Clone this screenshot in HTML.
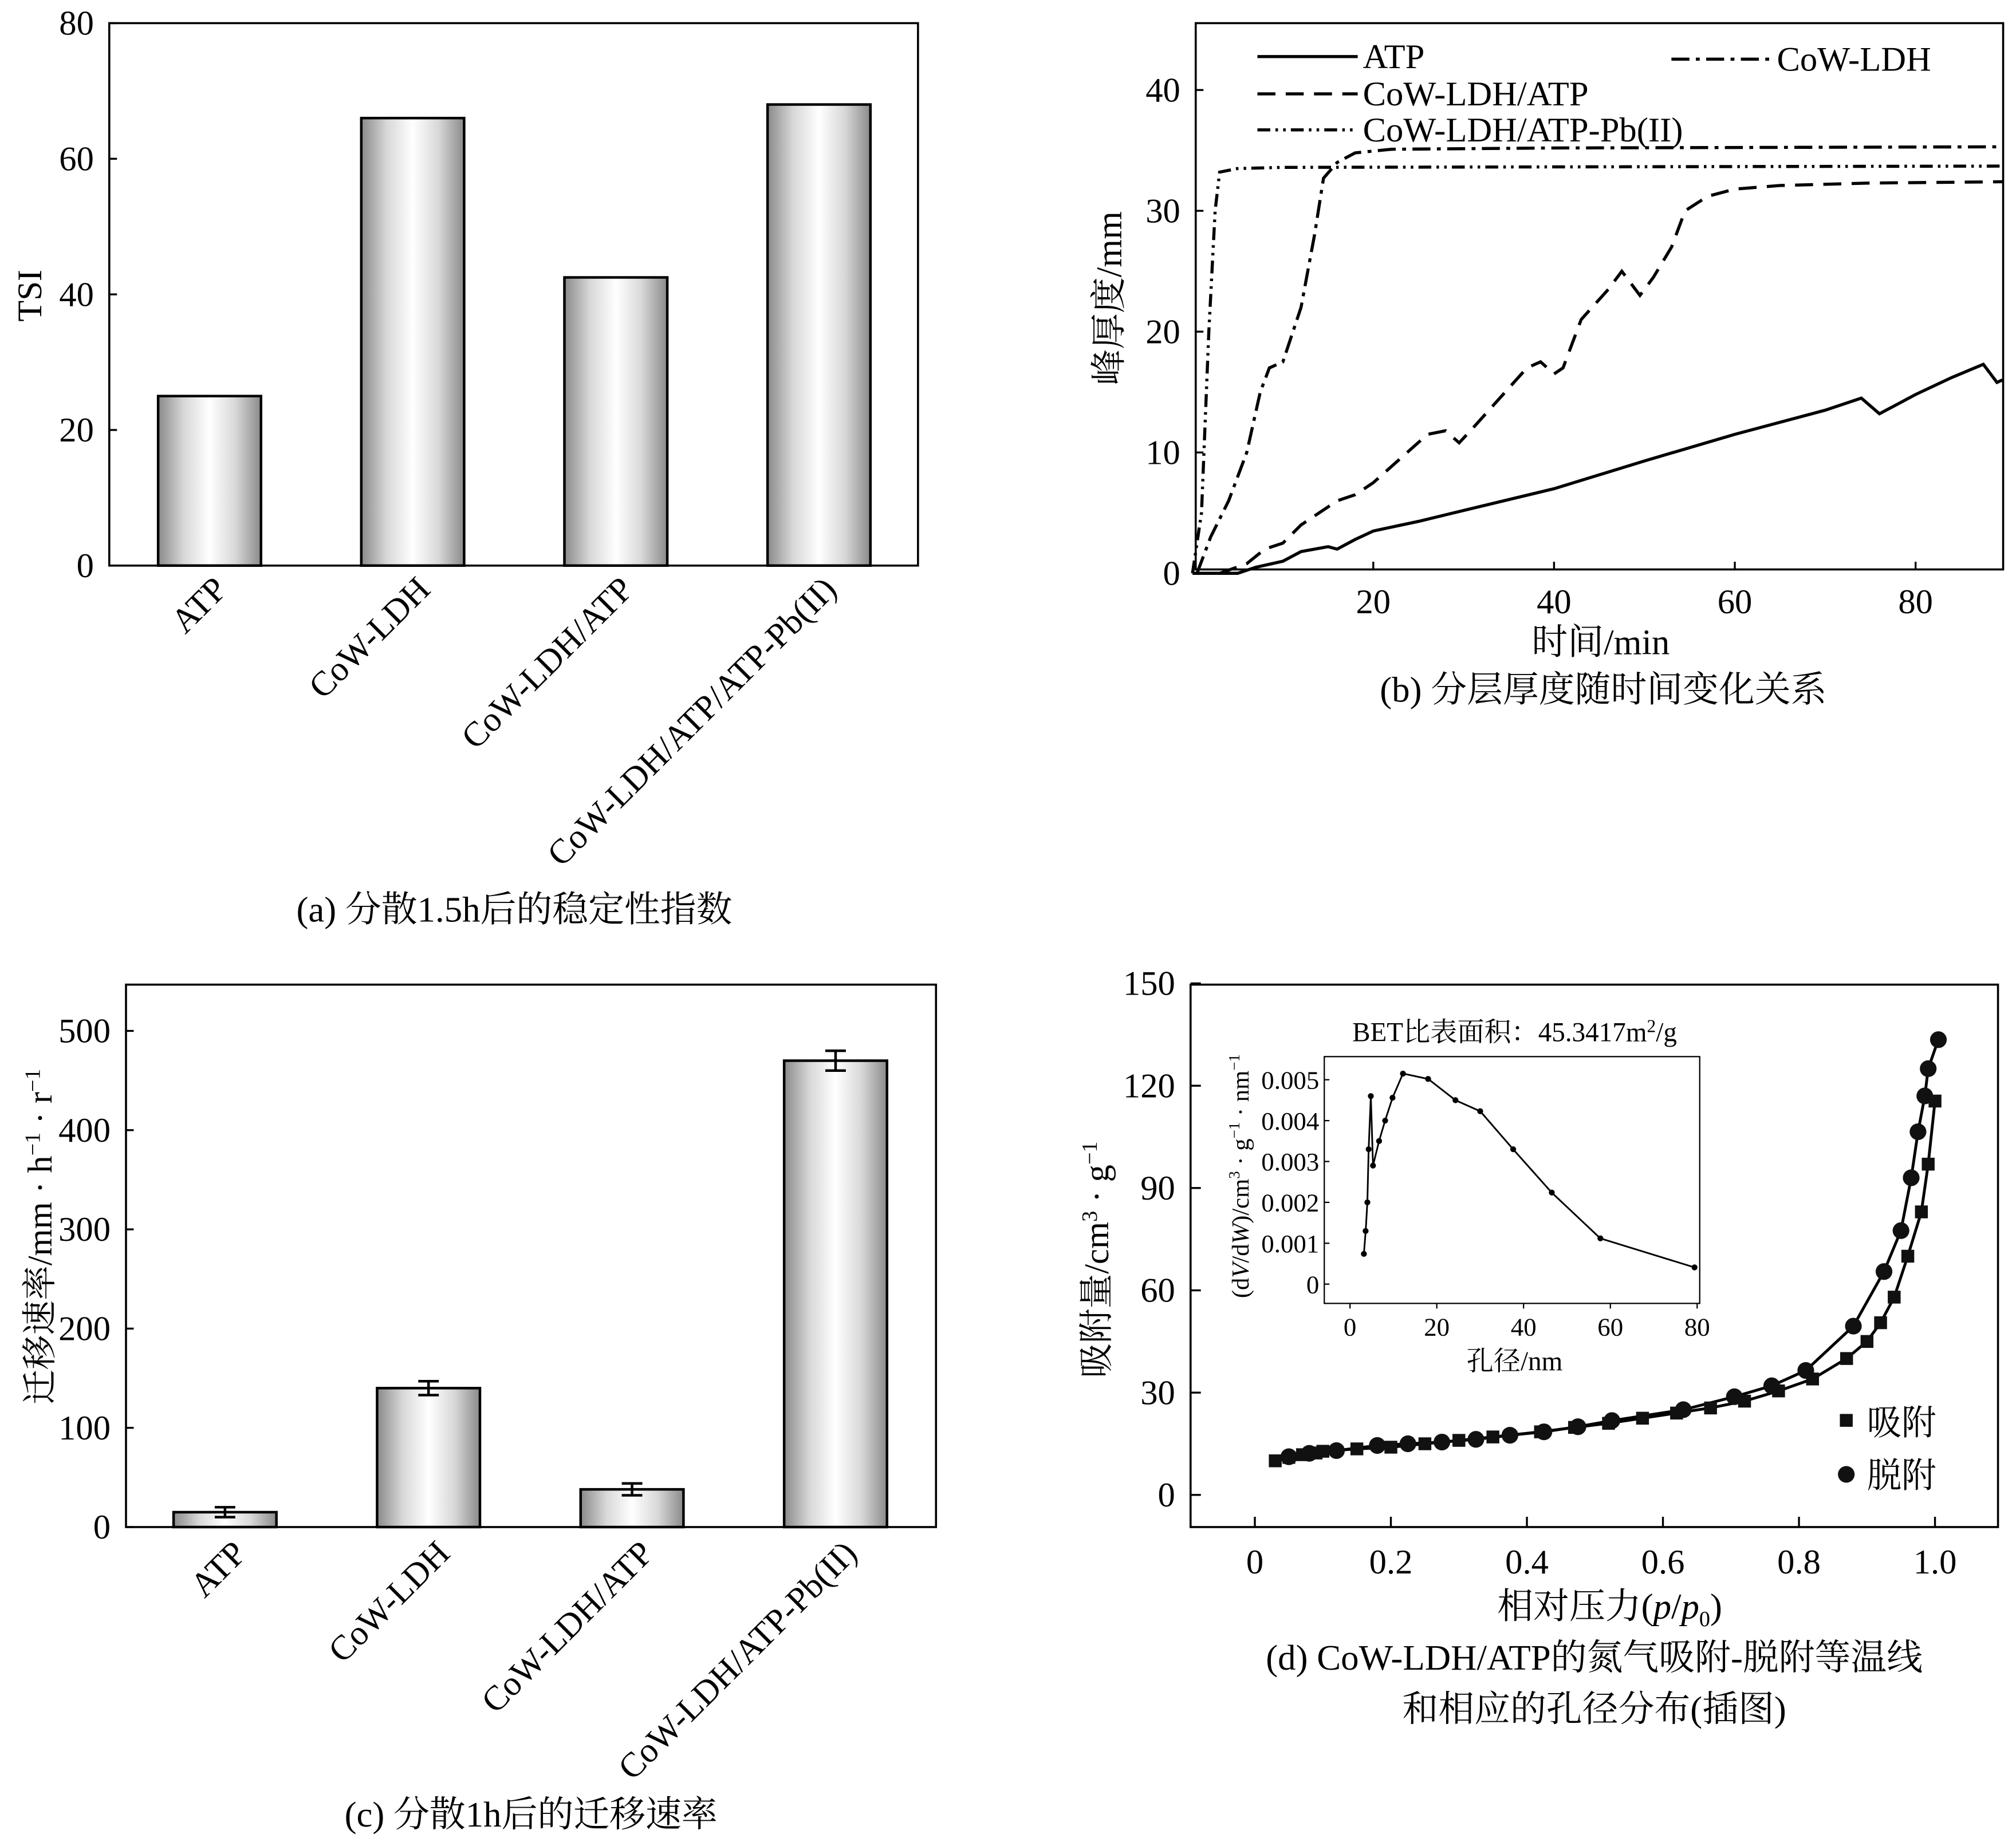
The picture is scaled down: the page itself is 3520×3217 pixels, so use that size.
<!DOCTYPE html>
<html><head><meta charset="utf-8"><style>
html,body{margin:0;padding:0;background:#fff;}
svg{display:block;font-family:"Liberation Serif","Noto Serif CJK SC",serif;}
</style></head><body>
<svg id="fig" width="3520" height="3217" viewBox="0 0 1568 1433" xmlns="http://www.w3.org/2000/svg">
<defs>
<linearGradient id="barg" x1="0" x2="1" y1="0" y2="0">
<stop offset="0" stop-color="#8a8a8a"/><stop offset="0.25" stop-color="#d8d8d8"/><stop offset="0.5" stop-color="#ffffff"/><stop offset="0.75" stop-color="#d8d8d8"/><stop offset="1" stop-color="#8a8a8a"/>
</linearGradient>
</defs>
<g id="pa"></g>
<g id="pb"></g>
<g id="pc"></g>
<g id="pd"></g>
</svg>
<script>
// ---- Panel a data
const aCategories = ["ATP","CoW-LDH","CoW-LDH/ATP","CoW-LDH/ATP/ATP-Pb(II)"];
const aValues = [25, 66, 42.5, 68];
const aTicks = [0,20,40,60,80];
// ---- Panel b data
const bTicksY = [0,10,20,30,40];
const bTicksX = [20,40,60,80];
const bATP = [[0,0],[5,0],[7,0.5],[10,1],[12,1.8],[15,2.2],[16,2],[18,2.8],[20,3.5],[25,4.3],[30,5.2],[40,7],[50,9.3],[60,11.5],[70,13.5],[74,14.5],[76,13.2],[80,14.8],[84,16.2],[87.5,17.3],[89,15.8],[90,16]];
const bLDHATP = [[3,0],[6,0.8],[8,2],[10,2.5],[12,4],[15,5.5],[16,6],[18,6.5],[20,7.5],[23,9.5],[26,11.5],[28,11.8],[29.5,10.8],[31,12],[34,14.5],[37,17],[38.5,17.5],[40,16.5],[41,17],[43,21],[46,23.5],[47.5,25],[49.5,23],[51,24.5],[53,27],[54.5,30],[57,31.2],[60,31.8],[65,32.1],[75,32.3],[90,32.4]];
const bLDH = [[0.5,0],[2,3],[4,6],[6,10],[7.5,15],[8.5,17],[10,17.5],[12,22],[13.5,28],[14.5,32.7],[16,34],[18,34.8],[22,35.1],[40,35.2],[90,35.3]];
const bPb = [[0,0],[1,5],[1.8,20],[2.5,30],[3,33.2],[5,33.5],[10,33.6],[90,33.7]];
// ---- Panel c data
const cCategories = ["ATP","CoW-LDH","CoW-LDH/ATP","CoW-LDH/ATP-Pb(II)"];
const cValues = [15, 140, 38, 470];
const cErrors = [5, 7, 6, 10];
const cTicks = [0,100,200,300,400,500];
// ---- Panel d data
const dTicksY = [0,30,60,90,120,150];
const dTicksX = [0,0.2,0.4,0.6,0.8,1.0];
const dTickLabelsX = ["0","0.2","0.4","0.6","0.8","1.0"];
const dAds = [[0.03,10],[0.05,11],[0.07,11.8],[0.09,12.3],[0.1,12.8],[0.15,13.5],[0.2,14],[0.25,15],[0.3,16],[0.35,17],[0.42,18.5],[0.47,19.8],[0.52,21],[0.57,22.5],[0.62,24],[0.67,25.5],[0.72,27.5],[0.77,30.5],[0.82,34],[0.87,40],[0.9,45],[0.92,50.5],[0.94,58],[0.96,70],[0.98,83],[0.99,97],[1.0,115.5]];
const dDes = [[0.05,11.2],[0.08,12.2],[0.12,13],[0.18,14.5],[0.225,15],[0.275,15.5],[0.325,16.3],[0.375,17.5],[0.425,18.5],[0.475,20],[0.525,21.8],[0.63,25],[0.705,28.8],[0.76,32],[0.81,36.5],[0.88,49.5],[0.925,65.5],[0.95,77.5],[0.965,93],[0.975,106.5],[0.985,117],[0.99,125],[1.005,133.5]];
const insetX = [3.2,3.6,4,4.3,4.8,5.3,6.7,8.1,9.8,12.2,18,24.3,30,37.6,46.5,57.7,79.4];
const insetY = [0.00074,0.0013,0.002,0.0033,0.0046,0.0029,0.0035,0.0040,0.00456,0.00515,0.00502,0.0045,0.00423,0.0033,0.00224,0.00112,0.00041];
const insetTicksY = [0,0.001,0.002,0.003,0.004,0.005];
const insetTickLabelsY = ["0","0.001","0.002","0.003","0.004","0.005"];
const insetTicksX = [0,20,40,60,80];

const NS="http://www.w3.org/2000/svg";
const FS=27, CFS=28;
function mk(parent,tag,attrs,text){const e=document.createElementNS(NS,tag);for(const k in attrs)e.setAttribute(k,attrs[k]);if(text!==undefined)e.textContent=text;parent.appendChild(e);return e;}

// ===== Panel a
(function(){
const g=document.getElementById('pa');
const L=85,R=714,T=18,B=440;
const y=v=>B-(v/80)*(B-T);
const bx=i=>163+i*158;
let e=mk(g,'rect',{x:L,y:T,width:R-L,height:B-T,fill:'none',stroke:'#000','stroke-width':1.6});

aTicks.forEach(t=>{
 let l=mk(g,'line',{x1:L,x2:L+6,y1:y(t),y2:y(t),stroke:'#000','stroke-width':1.5});
 
 let tx=mk(g,'text',{x:L-12,y:y(t)+9,'text-anchor':'end','font-size':FS},t);
 
});
aValues.forEach((v,i)=>{
 let r=mk(g,'rect',{x:bx(i)-40,y:y(v),width:80,height:B-y(v),fill:'url(#barg)',stroke:'#000','stroke-width':2});
 
 let t=mk(g,'text',{x:0,y:0,'text-anchor':'end','font-size':FS,transform:`translate(${bx(i)+15},${B+20}) rotate(-45)`},aCategories[i]);
 
});
let yt=mk(g,'text',{x:0,y:0,'text-anchor':'middle','font-size':FS,transform:'translate(32,230) rotate(-90)'},'TSI');

let c=mk(g,'text',{x:400,y:717,'text-anchor':'middle','font-size':CFS},'(a) 分散1.5h后的稳定性指数');

})();

// ===== Panel b
(function(){
const g=document.getElementById('pb');
const L=930,R=1558,T=18,B=443;
const x=v=>927.5+v*7.03;
const y=v=>446-v*9.4;
let e=mk(g,'rect',{x:L,y:T,width:R-L,height:B-T,fill:'none',stroke:'#000','stroke-width':1.6});

bTicksY.forEach(t=>{
 let l=mk(g,'line',{x1:L,x2:L+6,y1:y(t),y2:y(t),stroke:'#000','stroke-width':1.5});
 
 let tx=mk(g,'text',{x:L-12,y:y(t)+9,'text-anchor':'end','font-size':FS},t);
 
});
bTicksX.forEach(t=>{
 let l=mk(g,'line',{x1:x(t),x2:x(t),y1:B,y2:B-6,stroke:'#000','stroke-width':1.5});
 
 let tx=mk(g,'text',{x:x(t),y:B+34,'text-anchor':'middle','font-size':FS},t);
 
});
const series=[[bATP,'none','atp-line'],[bLDHATP,'14 8','cow-ldh-atp-line'],[bLDH,'14 5 3 5','cow-ldh-line'],[bPb,'10 4 2 4 2 4','cow-ldh-atp-pb-line']];
series.forEach(s=>{
 const d=s[0].map((p,i)=>(i?'L':'M')+x(Math.min(p[0],89.6)).toFixed(1)+','+y(p[1]).toFixed(1)).join(' ');
 let p=mk(g,'path',{d:d,fill:'none',stroke:'#000','stroke-width':2.4,'stroke-dasharray':s[1]});
 
});
const leg=[[978,44,'none','ATP'],[1300,46,'14 5 3 5','CoW-LDH'],[978,73,'14 8','CoW-LDH/ATP'],[978,101,'10 4 2 4 2 4','CoW-LDH/ATP-Pb(II)']];
leg.forEach(l=>{
 let ln=mk(g,'line',{x1:l[0],x2:l[0]+78,y1:l[1],y2:l[1],stroke:'#000','stroke-width':2.4,'stroke-dasharray':l[2]});
 
 let t=mk(g,'text',{x:l[0]+82,y:l[1]+9,'font-size':FS},l[3]);
 
});
let yt=mk(g,'text',{x:0,y:0,'text-anchor':'middle','font-size':CFS,transform:'translate(872,232) rotate(-90)'},'峰厚度/mm');

let xt=mk(g,'text',{x:1245,y:509,'text-anchor':'middle','font-size':CFS},'时间/min');

let c=mk(g,'text',{x:1247,y:546,'text-anchor':'middle','font-size':CFS},'(b) 分层厚度随时间变化关系');

})();

// ===== Panel c
(function(){
const g=document.getElementById('pc');
const L=98,R=728,T=766,B=1188;
const y=v=>B-v*0.772;
const bx=i=>175+i*158.3;
let e=mk(g,'rect',{x:L,y:T,width:R-L,height:B-T,fill:'none',stroke:'#000','stroke-width':1.6});

cTicks.forEach(t=>{
 let l=mk(g,'line',{x1:L,x2:L+6,y1:y(t),y2:y(t),stroke:'#000','stroke-width':1.5});
 
 let tx=mk(g,'text',{x:L-12,y:y(t)+9,'text-anchor':'end','font-size':FS},t);
 
});
cValues.forEach((v,i)=>{
 let r=mk(g,'rect',{x:bx(i)-40,y:y(v),width:80,height:B-y(v),fill:'url(#barg)',stroke:'#000','stroke-width':2});
 
 const eu=y(v+cErrors[i]),el=y(v-cErrors[i]);
 let eb=mk(g,'path',{d:`M${bx(i)},${eu} L${bx(i)},${el} M${bx(i)-8},${eu} L${bx(i)+8},${eu} M${bx(i)-8},${el} L${bx(i)+8},${el}`,stroke:'#000','stroke-width':2,fill:'none'});
 
 let t=mk(g,'text',{x:0,y:0,'text-anchor':'end','font-size':FS,transform:`translate(${bx(i)+18},${B+22}) rotate(-45)`},cCategories[i]);
 
});
let yt=mk(g,'text',{x:0,y:0,'text-anchor':'middle','font-size':FS,transform:'translate(40,962) rotate(-90)'});
yt.innerHTML='迁移速率/mm · h<tspan dy="-9" font-size="17">−1</tspan><tspan dy="9"> · r</tspan><tspan dy="-9" font-size="17">−1</tspan>';

let c=mk(g,'text',{x:413,y:1421,'text-anchor':'middle','font-size':CFS},'(c) 分散1h后的迁移速率');

})();

// ===== Panel d
(function(){
const g=document.getElementById('pd');
const L=926,R=1554,T=766,B=1188;
const x=v=>976+v*529;
const y=v=>1163-v*2.653;
let e=mk(g,'rect',{x:L,y:T,width:R-L,height:B-T,fill:'none',stroke:'#000','stroke-width':1.6});

dTicksY.forEach(t=>{
 let l=mk(g,'line',{x1:L,x2:L+8,y1:y(t),y2:y(t),stroke:'#000','stroke-width':1.5});
 
 let tx=mk(g,'text',{x:L-12,y:y(t)+9,'text-anchor':'end','font-size':FS},t);
 
});
dTicksX.forEach((t,i)=>{
 let l=mk(g,'line',{x1:x(t),x2:x(t),y1:B,y2:B-8,stroke:'#000','stroke-width':1.5});
 
 let tx=mk(g,'text',{x:x(t),y:B+36,'text-anchor':'middle','font-size':FS},dTickLabelsX[i]);
 
});
const pa=dAds.map((p,i)=>(i?'L':'M')+x(p[0]).toFixed(1)+','+y(p[1]).toFixed(1)).join(' ');
let l1=mk(g,'path',{d:pa,fill:'none',stroke:'#000','stroke-width':2.2});

const pd=dDes.map((p,i)=>(i?'L':'M')+x(p[0]).toFixed(1)+','+y(p[1]).toFixed(1)).join(' ');
let l2=mk(g,'path',{d:pd,fill:'none',stroke:'#000','stroke-width':2.2});

dAds.forEach(p=>{
 let s=mk(g,'rect',{x:x(p[0])-5,y:y(p[1])-5,width:10,height:10,fill:'#111'});
 
});
dDes.forEach(p=>{
 let s=mk(g,'circle',{cx:x(p[0]),cy:y(p[1]),r:6.5,fill:'#111'});
 
});
let ls=mk(g,'rect',{x:1431,y:1100,width:10,height:10,fill:'#111'});

let lt=mk(g,'text',{x:1452,y:1116,'font-size':FS},'吸附');

let lc=mk(g,'circle',{cx:1436,cy:1147,r:6.5,fill:'#111'});

let lt2=mk(g,'text',{x:1452,y:1157,'font-size':FS},'脱附');

let yt=mk(g,'text',{x:0,y:0,'text-anchor':'middle','font-size':FS,transform:'translate(862,980) rotate(-90)'});
yt.innerHTML='吸附量/cm<tspan dy="-9" font-size="17">3</tspan><tspan dy="9"> · g</tspan><tspan dy="-9" font-size="17">−1</tspan>';

let xt=mk(g,'text',{x:1252,y:1259,'text-anchor':'middle','font-size':CFS});
xt.innerHTML='相对压力(<tspan font-style="italic">p</tspan>/<tspan font-style="italic">p</tspan><tspan dy="6" font-size="17">0</tspan><tspan dy="-6">)</tspan>';

let c1=mk(g,'text',{x:1240,y:1299,'text-anchor':'middle','font-size':CFS},'(d) CoW-LDH/ATP的氮气吸附-脱附等温线');

let c2=mk(g,'text',{x:1240,y:1339,'text-anchor':'middle','font-size':CFS},'和相应的孔径分布(插图)');


// inset
const ig=mk(g,'g',{});

const iL=1030,iR=1322,iT=822,iB=1014;
const ix=v=>1050+v*3.375;
const iy=v=>999-v*31800;
let fr=mk(ig,'rect',{x:iL,y:iT,width:iR-iL,height:iB-iT,fill:'#fff',stroke:'#000','stroke-width':1});

insetTicksY.forEach((t,i)=>{
 let l=mk(ig,'line',{x1:iL,x2:iL+4,y1:iy(t),y2:iy(t),stroke:'#000','stroke-width':1});
 
 let tx=mk(ig,'text',{x:iL-4,y:iy(t)+7,'text-anchor':'end','font-size':20},insetTickLabelsY[i]);
 
});
insetTicksX.forEach(t=>{
 let l=mk(ig,'line',{x1:ix(t),x2:ix(t),y1:iB,y2:iB+4,stroke:'#000','stroke-width':1});
 
 let tx=mk(ig,'text',{x:ix(t),y:iB+25,'text-anchor':'middle','font-size':20},t);
 
});
const ip=insetX.map((v,i)=>(i?'L':'M')+ix(v).toFixed(1)+','+iy(insetY[i]).toFixed(1)).join(' ');
let il=mk(ig,'path',{d:ip,fill:'none',stroke:'#000','stroke-width':1.3});

insetX.forEach((v,i)=>{
 let p=mk(ig,'circle',{cx:ix(v),cy:iy(insetY[i]),r:2.3,fill:'#000'});
 
});
let it=mk(ig,'text',{x:1178,y:810,'text-anchor':'middle','font-size':21});
it.innerHTML='BET比表面积：45.3417m<tspan dy="-7" font-size="14">2</tspan><tspan dy="7">/g</tspan>';

let ixt=mk(ig,'text',{x:1178,y:1066,'text-anchor':'middle','font-size':21},'孔径/nm');

let iyt=mk(ig,'text',{x:0,y:0,'text-anchor':'middle','font-size':19,transform:'translate(971,915) rotate(-90)'});
iyt.innerHTML='(d<tspan font-style="italic">V</tspan>/d<tspan font-style="italic">W</tspan>)/cm<tspan dy="-7" font-size="12">3</tspan><tspan dy="7"> · g</tspan><tspan dy="-7" font-size="12">−1</tspan><tspan dy="7"> · nm</tspan><tspan dy="-7" font-size="12">−1</tspan>';

})();
</script>
</body></html>
